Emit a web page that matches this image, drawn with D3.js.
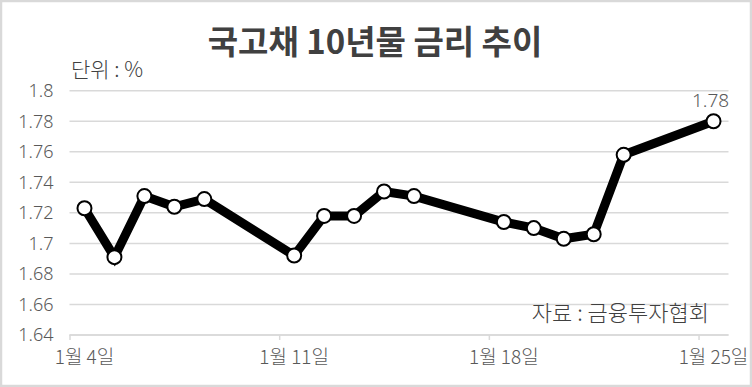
<!DOCTYPE html>
<html>
<head>
<meta charset="utf-8">
<script src="https://cdn.jsdelivr.net/npm/d3@7"></script>
<style>
  html, body { margin: 0; padding: 0; background: #fff; }
  svg { display: block; }
  text { font-family: "Noto Sans CJK KR", "Noto Sans", sans-serif; }
</style>
</head>
<body>
<svg id="chart" width="752" height="387"></svg>
<script>
// ---- data ----
const dates = ["2021-01-04","2021-01-05","2021-01-06","2021-01-07","2021-01-08",
               "2021-01-11","2021-01-12","2021-01-13","2021-01-14","2021-01-15",
               "2021-01-18","2021-01-19","2021-01-20","2021-01-21","2021-01-22",
               "2021-01-25"];
const rates = [1.723, 1.691, 1.731, 1.724, 1.729,
               1.692, 1.718, 1.718, 1.734, 1.731,
               1.714, 1.710, 1.703, 1.706, 1.758,
               1.780];
const yTicks = [1.64, 1.66, 1.68, 1.70, 1.72, 1.74, 1.76, 1.78, 1.80];
const yTickLabels = ["1.64","1.66","1.68","1.7","1.72","1.74","1.76","1.78","1.8"];
const xLabelDates = ["2021-01-04","2021-01-11","2021-01-18","2021-01-25"];
const xLabels = ["1월 4일","1월 11일","1월 18일","1월 25일"];
const title = "국고채 10년물 금리 추이";
const unitText = "단위 : %";
const sourceText = "자료 : 금융투자협회";

// ---- layout ----
const W = 752, H = 387;
const plot = { left: 69.5, right: 728.5, top: 90.7, bottom: 335 };
const svg = d3.select("#chart");

const parse = d3.utcParse("%Y-%m-%d");
const DAY = 86400000;
const d0 = parse(dates[0]), d1 = parse(dates[dates.length - 1]);
const x = d3.scaleUtc()
  .domain([new Date(+d0 - DAY / 2), new Date(+d1 + DAY / 2)])
  .range([plot.left, plot.right]);
const y = d3.scaleLinear().domain([1.64, 1.80]).range([plot.bottom, plot.top]);

// frame
svg.append("rect").attr("x", 1).attr("y", 1).attr("width", W - 2).attr("height", H - 2)
  .attr("fill", "#fff").attr("stroke", "#d9d9d9").attr("stroke-width", 2.5);

// gridlines
const gridColor = "#d9d9d9";
svg.append("g").selectAll("line").data(yTicks).join("line")
  .attr("x1", plot.left).attr("x2", plot.right)
  .attr("y1", d => y(d)).attr("y2", d => y(d))
  .attr("stroke", gridColor).attr("stroke-width", 1.5);

// y axis labels
const yAxis = d3.axisLeft(y).tickValues(yTicks)
  .tickFormat((d, i) => yTickLabels[i]).tickSize(0).tickPadding(16);
const gy = svg.append("g").attr("transform", `translate(${plot.left},0)`).call(yAxis);
gy.select(".domain").remove();
gy.selectAll("text").attr("fill", "#595959").style("font-size", "18px")
  .style("font-family", '"Noto Sans", sans-serif').style("font-weight", 300);

// x axis: ticks between days
const tickDates = xLabelDates.map(s => new Date(+parse(s) - DAY / 2));
const xAxis = d3.axisBottom(x).tickValues(tickDates).tickSize(5).tickFormat("");
const gx = svg.append("g").attr("transform", `translate(0,${plot.bottom})`).call(xAxis);
gx.select(".domain").attr("stroke", gridColor).attr("stroke-width", 1.5)
  .attr("d", `M${plot.left},0H${plot.right}`);
gx.selectAll(".tick line").attr("stroke", gridColor).attr("stroke-width", 1.5);

svg.append("g").selectAll("text").data(xLabelDates).join("text")
  .attr("x", d => x(parse(d))).attr("y", 364)
  .attr("text-anchor", "middle").attr("fill", "#595959")
  .style("font-size", "19px").style("font-weight", 300)
  .text((d, i) => xLabels[i]);

// line
const pts = dates.map((d, i) => ({ date: parse(d), v: rates[i] }));
svg.append("path").datum(pts)
  .attr("d", d3.line().x(d => x(d.date)).y(d => y(d.v)))
  .attr("fill", "none").attr("stroke", "#000").attr("stroke-width", 9)
  .attr("stroke-linejoin", "miter");

svg.append("g").selectAll("circle").data(pts).join("circle")
  .attr("cx", d => x(d.date)).attr("cy", d => y(d.v)).attr("r", 7)
  .attr("fill", "#fff").attr("stroke", "#000").attr("stroke-width", 2);

// last value label
const last = pts[pts.length - 1];
svg.append("text").attr("x", x(last.date) - 3).attr("y", y(last.v) - 14)
  .attr("text-anchor", "middle").attr("fill", "#595959")
  .style("font-size", "19px").style("font-family", '"Noto Sans", sans-serif').style("font-weight", 300)
  .text(d3.format(".2f")(last.v));

// title & notes
svg.append("text").attr("x", 375).attr("y", 54).attr("text-anchor", "middle")
  .attr("fill", "#404040").style("font-size", "33px").style("font-weight", 700)
  .text(title);
svg.append("text").attr("x", 71).attr("y", 77).attr("fill", "#404040")
  .style("font-size", "21px").style("font-weight", 300).text(unitText);
svg.append("text").attr("x", 709).attr("y", 321).attr("text-anchor", "end").attr("fill", "#404040")
  .style("font-size", "22px").style("font-weight", 300).text(sourceText);
</script>
</body>
</html>
